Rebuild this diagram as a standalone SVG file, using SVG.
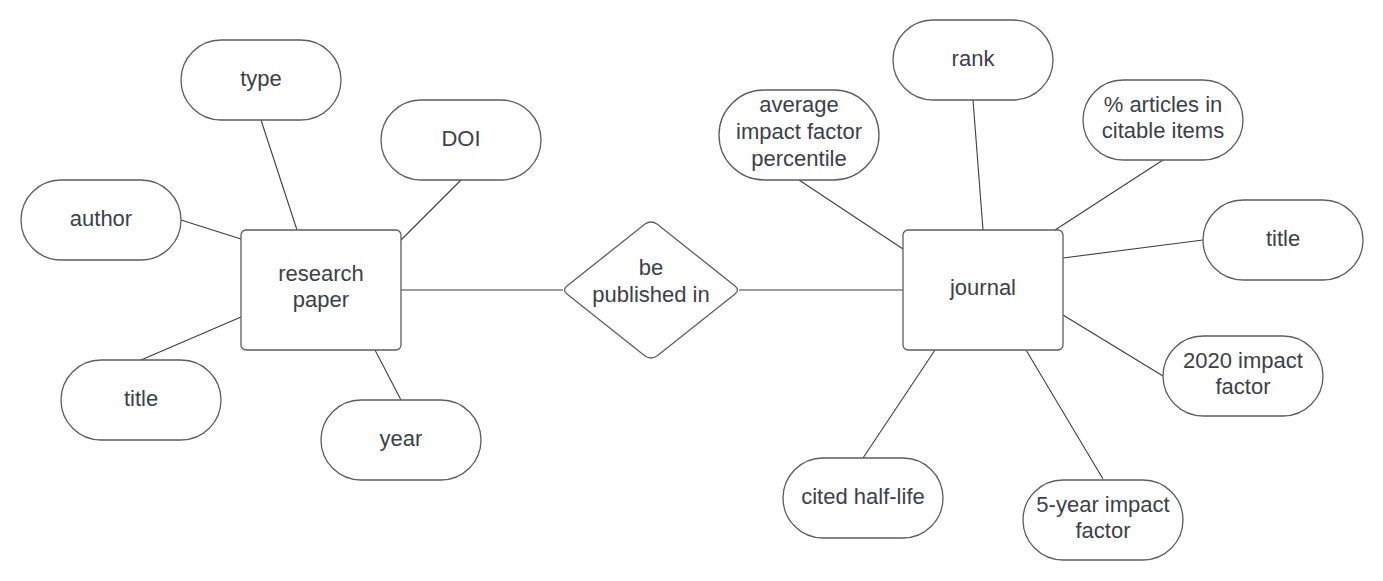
<svg xmlns="http://www.w3.org/2000/svg" width="1383" height="581" viewBox="0 0 1383 581">
<style>
.s{fill:#ffffff;stroke:#5e5e5e;stroke-width:1.3}
.c line{stroke:#3a3f47;stroke-width:1.1}
text{font-family:"Liberation Sans",Arial,sans-serif;font-size:22px;fill:#3a414a;text-anchor:middle}
</style>
<rect width="1383" height="581" fill="#ffffff"/>
<g class="c" id="connectors">
<line x1="261" y1="120" x2="297" y2="230"/>
<line x1="461" y1="180" x2="401" y2="240"/>
<line x1="181" y1="220" x2="241" y2="239"/>
<line x1="141" y1="360" x2="241" y2="317"/>
<line x1="401" y1="400" x2="375" y2="350"/>
<line x1="401" y1="290" x2="563" y2="290"/>
<line x1="739" y1="290" x2="903" y2="290"/>
<line x1="799" y1="180" x2="903" y2="249"/>
<line x1="973" y1="100" x2="983" y2="230"/>
<line x1="1163" y1="160" x2="1055" y2="230"/>
<line x1="1203" y1="240" x2="1063" y2="258"/>
<line x1="1163" y1="376" x2="1063" y2="315"/>
<line x1="1103" y1="479" x2="1026" y2="350"/>
<line x1="863" y1="458" x2="935" y2="350"/>
</g>
<g id="research-paper"><rect class="s" x="241" y="230" width="160" height="120" rx="5"/><text x="321" y="281">research</text><text x="321" y="307">paper</text></g>
<g id="journal"><rect class="s" x="903" y="230" width="160" height="120" rx="5"/><text x="983" y="295">journal</text></g>
<g id="be-published-in"><path class="s" d="M645,224 Q651,220 657,224 L735,286 Q740,290 735,294 L657,356 Q651,360 645,356 L567,294 Q562,290 567,286 Z"/><text x="651" y="275">be</text><text x="651" y="302">published in</text></g>
<g id="type"><rect class="s" x="181" y="40" width="160" height="80" rx="40"/><text x="261" y="86">type</text></g>
<g id="doi"><rect class="s" x="381" y="100" width="160" height="80" rx="40"/><text x="461" y="146">DOI</text></g>
<g id="author"><rect class="s" x="21" y="180" width="160" height="80" rx="40"/><text x="101" y="226">author</text></g>
<g id="title-left"><rect class="s" x="61" y="360" width="160" height="80" rx="40"/><text x="141" y="406">title</text></g>
<g id="year"><rect class="s" x="321" y="400" width="160" height="80" rx="40"/><text x="401" y="446">year</text></g>
<g id="avg-impact"><rect class="s" x="719" y="90" width="160" height="90" rx="45"/><text x="799" y="112">average</text><text x="799" y="139">impact factor</text><text x="799" y="166">percentile</text></g>
<g id="rank"><rect class="s" x="893" y="20" width="160" height="80" rx="40"/><text x="973" y="66">rank</text></g>
<g id="pct-articles"><rect class="s" x="1083" y="80" width="160" height="80" rx="40"/><text x="1163" y="112">% articles in</text><text x="1163" y="138">citable items</text></g>
<g id="title-right"><rect class="s" x="1203" y="200" width="160" height="80" rx="40"/><text x="1283" y="246">title</text></g>
<g id="impact-2020"><rect class="s" x="1163" y="336" width="160" height="80" rx="40"/><text x="1243" y="368">2020 impact</text><text x="1243" y="394">factor</text></g>
<g id="impact-5year"><rect class="s" x="1023" y="480" width="160" height="80" rx="40"/><text x="1103" y="512">5-year impact</text><text x="1103" y="538">factor</text></g>
<g id="cited-half-life"><rect class="s" x="783" y="458" width="160" height="80" rx="40"/><text x="863" y="504">cited half-life</text></g>
</svg>
